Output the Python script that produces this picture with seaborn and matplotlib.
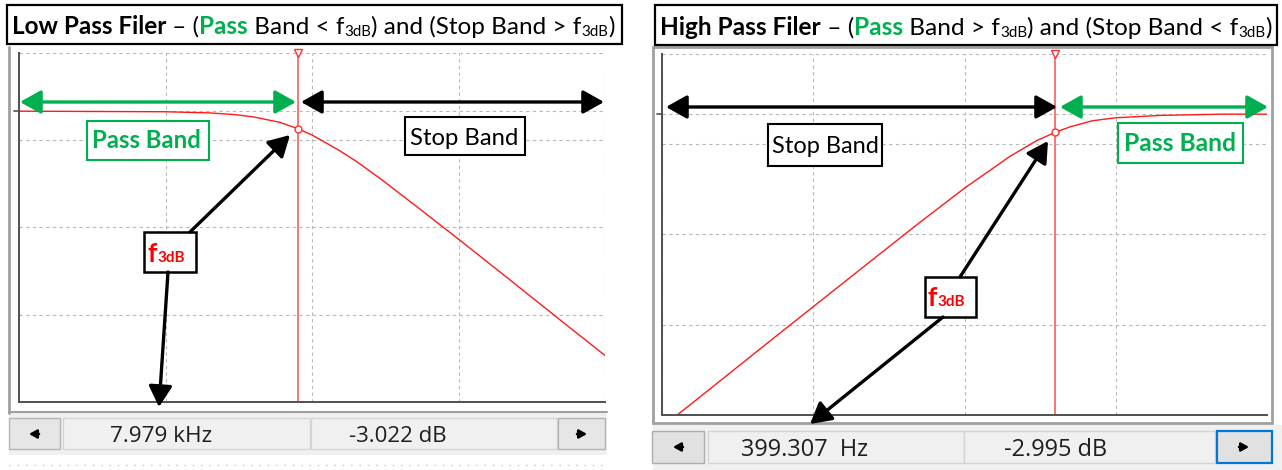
import matplotlib
matplotlib.use("Agg")
import matplotlib.pyplot as plt
from matplotlib.patches import Rectangle, FancyArrowPatch
from matplotlib.lines import Line2D
import pandas as pd
import seaborn as sns

W, H = 1282, 470

# low pass filter response (Hz, dB)
lp_freq = [100, 1000, 2000, 3000, 4000, 5000, 6000, 7979, 10000, 15000, 20000,
           30000, 50000, 100000, 200000, 500000, 1000000]
lp_gain = [0.0, -0.1, -0.3, -0.6, -1.0, -1.5, -1.9, -3.0, -4.1, -6.6, -8.6,
           -11.8, -16.1, -22.0, -28.0, -36.0, -42.0]
lp_cursor = 7979
lp_cursor_db = -3.022
lp_readout = ["7.979 kHz", "-3.022 dB"]
lp_xlim = [100, 1000000]

# high pass filter response (Hz, dB)
hp_freq = [1.26, 2, 5, 10, 20, 50, 100, 200, 300, 399.3, 500, 700, 1000,
           2000, 5000, 10000]
hp_gain = [-50.0, -46.0, -38.0, -32.0, -26.0, -18.1, -12.3, -7.0, -4.4, -3.0,
           -2.1, -1.1, -0.6, -0.2, 0.0, 0.0]
hp_cursor = 399.307
hp_cursor_db = -2.995
hp_readout = ["399.307  Hz", "-2.995 dB"]
hp_xlim = [1, 10000]

ylim = [-50, 10]
ygrid = [10, 0, -5, -20, -35, -50]

GREEN = "#00b050"
FONT = "Lato"

sns.set_style("white")
plt.rcParams["font.family"] = [FONT, "DejaVu Sans"]

fig = plt.figure(figsize=(W / 100, H / 100), dpi=100)
fig.patch.set_facecolor("white")
r = fig.canvas.get_renderer()


def F(x, y):
    return (x / W, 1 - y / H)


def rect(x0, y0, x1, y1, fc="none", ec="black", lw=1.0, z=0.5):
    fig.add_artist(Rectangle(F(x0, y1), (x1 - x0) / W, (y1 - y0) / H,
                             transform=fig.transFigure, facecolor=fc,
                             edgecolor=ec, linewidth=lw, zorder=z))


def hline(x0, x1, y, color, lw=1.0, ls="-", z=0.6):
    fig.add_artist(Line2D([x0 / W, x1 / W], [1 - y / H, 1 - y / H],
                          transform=fig.transFigure, color=color, lw=lw,
                          ls=ls, zorder=z))


def vline(x, y0, y1, color, lw=1.0, z=0.6):
    fig.add_artist(Line2D([x / W, x / W], [1 - y0 / H, 1 - y1 / H],
                          transform=fig.transFigure, color=color, lw=lw,
                          zorder=z))


def width(txt, size, weight, family):
    t = fig.text(0, 0, txt + "|", fontsize=size, fontweight=weight, family=family)
    t2 = fig.text(0, 0, "|", fontsize=size, fontweight=weight, family=family)
    w = t.get_window_extent(r).width - t2.get_window_extent(r).width
    t.remove()
    t2.remove()
    return w


def rich(x0, x1, base, pieces, family=FONT, size=16, sub_scale=0.62, z=5,
         fit=True, sub_drop=0.12):
    # pieces: (text, color, weight, is_subscript); fitted into x0..x1
    def total(s):
        return sum(width(p[0], s * (sub_scale if p[3] else 1), p[2], family)
                   for p in pieces)
    if fit:
        size = size * (x1 - x0) / total(size)
    x = x0
    for txt, color, weight, sub in pieces:
        s = size * sub_scale if sub else size
        yy = base + (size * sub_drop if sub else 0)
        fig.text(x / W, 1 - yy / H, txt, color=color, fontsize=s,
                 fontweight=weight, family=family, va="baseline", ha="left",
                 zorder=z)
        x += width(txt, s, weight, family)


def arrow(p0, p1, color="black", style="-|>", lw=2.4, ms=17):
    fig.add_artist(FancyArrowPatch(F(*p0), F(*p1), transform=fig.transFigure,
                                   arrowstyle=style + ",head_length=0.75,head_width=0.42",
                                   mutation_scale=ms, color=color, lw=lw,
                                   shrinkA=0, shrinkB=0, zorder=6))


def setup(ax, xlim):
    ax.set_xscale("log")
    ax.set_xlim(xlim)
    ax.set_ylim(ylim)
    ax.set_yticks(ygrid)
    ax.grid(True, which="major", color="#b8b8b8", ls=(0, (3, 3)), lw=0.8)
    ax.grid(False, which="minor")
    ax.tick_params(length=0, labelbottom=False, labelleft=False, which="both")
    for s in ["top", "right"]:
        ax.spines[s].set_visible(False)
    for s in ["left", "bottom"]:
        ax.spines[s].set_color("#505050")
        ax.spines[s].set_linewidth(1.4)
    ax.plot([-0.008, 0], [0, 0], transform=ax.get_yaxis_transform(),
            color="#505050", lw=1.2, clip_on=False)


def panel(ax, freq, gain, cursor, cursor_db, xlim):
    setup(ax, xlim)
    df = pd.DataFrame({"freq": freq, "gain": gain})
    sns.lineplot(data=df, x="freq", y="gain", ax=ax, color="#ff1a1a", lw=1.0,
                 estimator=None, legend=False)
    ax.axvline(cursor, color="#ff4d4d", lw=1.1)
    ax.plot([cursor], [cursor_db], marker="o", ms=5, mfc="white", mec="#ff3030",
            mew=1.0, zorder=5)
    ax.plot([cursor], [ylim[1]], marker="v", ms=6, mfc="white", mec="#ff3030",
            mew=1.0, clip_on=False, zorder=5)
    ax.set_xlim(xlim)
    ax.set_xlabel("")
    ax.set_ylabel("")


def f3db(x, base):
    rich(x, x + 40, base, [("f", "red", "bold", False), ("3dB", "red", "bold", True)],
         size=19, sub_scale=0.58, fit=False, sub_drop=0.0)


def button_arrow(xc, y, sign):
    arrow((xc - 5 * sign, y), (xc + 5 * sign, y), lw=1.8, ms=6)


# ---------------- left: low pass ----------------
rect(9, 413, 607, 455, fc="#f0f0f0", ec="none", z=0.2)
vline(9, 47, 413, "#a0a0a0", lw=2)
hline(9, 607, 412, "#a0a0a0", lw=1.5)
hline(9, 607, 465, "#c8c8c8", lw=1, ls=(0, (1, 5)))
rect(9, 418, 60, 449, fc="#e6e6e6", ec="#b4b4b4", z=0.5)
rect(63, 418, 310, 449, fc="#f0f0f0", ec="#d4d4d4", z=0.5)
rect(311, 418, 557, 449, fc="#f0f0f0", ec="#d4d4d4", z=0.5)
rect(558, 418, 605, 449, fc="#e6e6e6", ec="#b4b4b4", z=0.5)
button_arrow(34, 434, -1)
button_arrow(582, 434, 1)
rich(110, 212, 442, [(lp_readout[0], "#1e1e1e", "normal", False)], family="Open Sans")
rich(349, 447, 442, [(lp_readout[1], "#1e1e1e", "normal", False)], family="Open Sans")

ax1 = fig.add_axes([19 / W, 1 - 402 / H, 586 / W, 349 / H])
ax1.set_zorder(1)
panel(ax1, lp_freq, lp_gain, lp_cursor, lp_cursor_db, lp_xlim)

rect(7, 5, 622, 44, fc="white", ec="black", lw=1.6, z=4)
rich(12, 618, 34, [("Low Pass Filer", "black", "bold", False),
                   (" – (", "black", "normal", False),
                   ("Pass", GREEN, "bold", False),
                   (" Band < f", "black", "normal", False),
                   ("3dB", "black", "normal", True),
                   (") and (Stop Band > f", "black", "normal", False),
                   ("3dB", "black", "normal", True),
                   (")", "black", "normal", False)])

arrow((20, 102), (296, 102), GREEN, "<|-|>")
arrow((301, 102), (604, 102), "black", "<|-|>")
rect(87, 121, 209, 160, fc="white", ec=GREEN, lw=1.5, z=4)
rich(92, 201, 148, [("Pass Band", GREEN, "bold", False)])
rect(405, 117, 525, 155, fc="white", ec="black", lw=1.5, z=4)
rich(410, 519, 145, [("Stop Band", "black", "normal", False)])
rect(144, 232, 196, 272, fc="white", ec="black", lw=1.8, z=4)
f3db(148, 262)
arrow((190, 232), (290, 135))
arrow((168, 272), (159, 407))

# ---------------- right: high pass ----------------
rect(653, 425, 1282, 470, fc="#f0f0f0", ec="none", z=0.2)
rect(653, 47, 1272, 423, fc="none", ec="#a0a0a0", lw=2, z=0.6)
rect(652, 431, 704, 463, fc="#e1e1e1", ec="#adadad", z=0.5)
rect(708, 431, 964, 463, fc="#f0f0f0", ec="#d4d4d4", z=0.5)
rect(964, 431, 1215, 463, fc="#f0f0f0", ec="#d4d4d4", z=0.5)
rect(1217, 431, 1272, 463, fc="#e1e1e1", ec="#0078d7", lw=1.6, z=0.5)
button_arrow(678, 447, -1)
button_arrow(1244, 447, 1)
rich(741, 868, 456, [(hp_readout[0], "#1e1e1e", "normal", False)], family="Open Sans")
rich(1004, 1107, 456, [(hp_readout[1], "#1e1e1e", "normal", False)], family="Open Sans")

ax2 = fig.add_axes([662 / W, 1 - 415 / H, 605 / W, 361 / H])
ax2.set_zorder(1)
panel(ax2, hp_freq, hp_gain, hp_cursor, hp_cursor_db, hp_xlim)

rect(655, 5, 1277, 45, fc="white", ec="black", lw=1.6, z=4)
rich(660, 1273, 35, [("High Pass Filer", "black", "bold", False),
                     (" – (", "black", "normal", False),
                     ("Pass", GREEN, "bold", False),
                     (" Band > f", "black", "normal", False),
                     ("3dB", "black", "normal", True),
                     (") and (Stop Band < f", "black", "normal", False),
                     ("3dB", "black", "normal", True),
                     (")", "black", "normal", False)])

arrow((666, 107), (1057, 107), "black", "<|-|>")
arrow((1060, 107), (1268, 107), GREEN, "<|-|>")
rect(768, 124, 882, 166, fc="white", ec="black", lw=1.5, z=4)
rich(772, 880, 153, [("Stop Band", "black", "normal", False)])
rect(1118, 123, 1243, 163, fc="white", ec=GREEN, lw=1.5, z=4)
rich(1124, 1236, 151, [("Pass Band", GREEN, "bold", False)])
rect(925, 277, 976, 317, fc="white", ec="black", lw=1.8, z=4)
f3db(928, 306)
arrow((960, 277), (1048, 141))
arrow((943, 317), (810, 424))

fig.savefig("out.png", dpi=100, facecolor="white")
